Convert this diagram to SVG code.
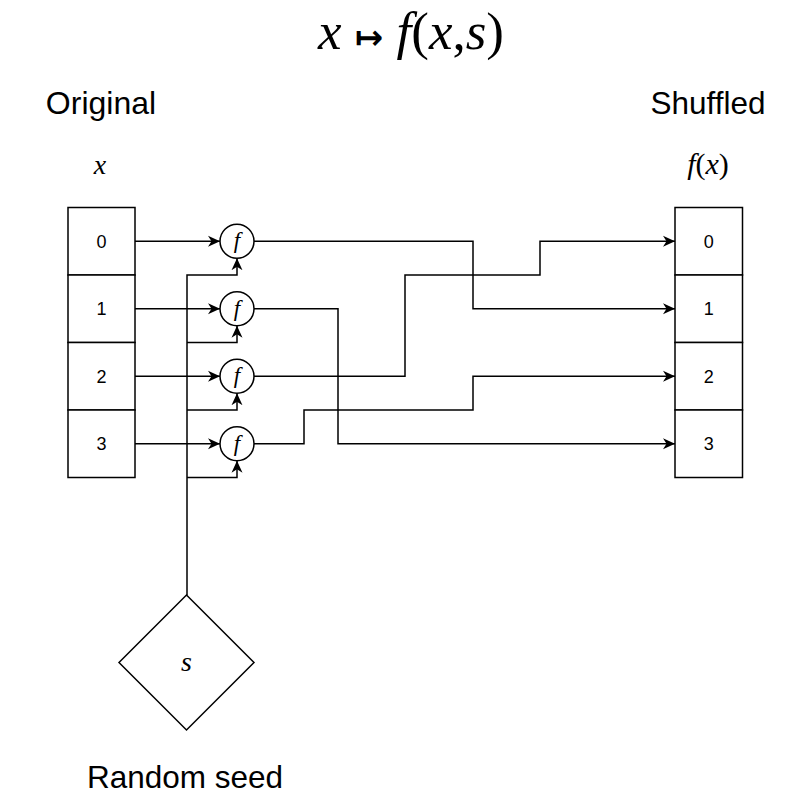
<svg xmlns="http://www.w3.org/2000/svg" width="811" height="807" viewBox="0 0 811 807">
<defs>
<style>
.box{fill:#fff;stroke:#000;stroke-width:1.5}
.ln{fill:none;stroke:#000;stroke-width:1.5}
.sans{font-family:"Liberation Sans",Arial,sans-serif;fill:#000}
.math{font-family:"Liberation Serif","Times New Roman",serif;font-style:italic;fill:#000}
.up{font-style:normal}
</style>
<marker id="arr" markerUnits="userSpaceOnUse" markerWidth="14" markerHeight="14" viewBox="0 0 14 14" refX="12" refY="7" orient="auto">
<path d="M0,1.5 L12,7 L0,12.5 L3.5,7 Z" fill="#000"/>
</marker>
</defs>
<rect width="811" height="807" fill="#fff"/>
<g id="title"><text class="math" x="411" y="49" font-size="53" text-anchor="middle">x <tspan class="up" font-family="DejaVu Sans, sans-serif" font-size="34" font-weight="bold">↦</tspan> f<tspan class="up">(</tspan>x<tspan class="up">,</tspan>s<tspan class="up">)</tspan></text></g>
<g id="label-original"><text class="sans" x="101" y="114" font-size="32" text-anchor="middle">Original</text></g>
<g id="label-shuffled"><text class="sans" x="708" y="114" font-size="31.5" text-anchor="middle">Shuffled</text></g>
<g id="label-x"><text class="math" x="100" y="174" font-size="28" text-anchor="middle">x</text></g>
<g id="label-fx"><text class="math" x="708" y="174" font-size="30" text-anchor="middle">f<tspan class="up">(</tspan>x<tspan class="up">)</tspan></text></g>
<g id="label-seed"><text class="sans" x="185" y="788" font-size="31.5" text-anchor="middle">Random seed</text></g>

<g id="connectors">
<path class="ln" d="M135,241.25 H220" marker-end="url(#arr)"/>
<path class="ln" d="M135,308.75 H220" marker-end="url(#arr)"/>
<path class="ln" d="M135,376.25 H220" marker-end="url(#arr)"/>
<path class="ln" d="M135,443.75 H220" marker-end="url(#arr)"/>
<path class="ln" d="M187,595 V275 H237 V258.25" marker-end="url(#arr)"/>
<path class="ln" d="M187,342.5 H237 V325.75" marker-end="url(#arr)"/>
<path class="ln" d="M187,410 H237 V393.25" marker-end="url(#arr)"/>
<path class="ln" d="M187,477.5 H237 V460.75" marker-end="url(#arr)"/>
<path class="ln" d="M254,241.25 H473 V308.75 H675" marker-end="url(#arr)"/>
<path class="ln" d="M254,308.75 H338 V443.75 H675" marker-end="url(#arr)"/>
<path class="ln" d="M254,376.25 H405 V275 H540 V241.25 H675" marker-end="url(#arr)"/>
<path class="ln" d="M254,443.75 H304 V410 H473 V376.25 H675" marker-end="url(#arr)"/>
</g>

<g id="orig-0"><rect class="box" x="68" y="207.5" width="67" height="67.5"/><text class="sans" font-size="18" text-anchor="middle" x="101.5" y="247.75">0</text></g>
<g id="orig-1"><rect class="box" x="68" y="275" width="67" height="67.5"/><text class="sans" font-size="18" text-anchor="middle" x="101.5" y="315.25">1</text></g>
<g id="orig-2"><rect class="box" x="68" y="342.5" width="67" height="67.5"/><text class="sans" font-size="18" text-anchor="middle" x="101.5" y="382.75">2</text></g>
<g id="orig-3"><rect class="box" x="68" y="410" width="67" height="67.5"/><text class="sans" font-size="18" text-anchor="middle" x="101.5" y="450.25">3</text></g>

<g id="shuf-0"><rect class="box" x="675" y="207.5" width="67.5" height="67.5"/><text class="sans" font-size="18" text-anchor="middle" x="708.75" y="247.75">0</text></g>
<g id="shuf-1"><rect class="box" x="675" y="275" width="67.5" height="67.5"/><text class="sans" font-size="18" text-anchor="middle" x="708.75" y="315.25">1</text></g>
<g id="shuf-2"><rect class="box" x="675" y="342.5" width="67.5" height="67.5"/><text class="sans" font-size="18" text-anchor="middle" x="708.75" y="382.75">2</text></g>
<g id="shuf-3"><rect class="box" x="675" y="410" width="67.5" height="67.5"/><text class="sans" font-size="18" text-anchor="middle" x="708.75" y="450.25">3</text></g>

<g id="f-0"><circle class="box" cx="237" cy="241.25" r="17"/><text class="math" x="237" y="248" font-size="23" text-anchor="middle">f</text></g>
<g id="f-1"><circle class="box" cx="237" cy="308.75" r="17"/><text class="math" x="237" y="315.5" font-size="23" text-anchor="middle">f</text></g>
<g id="f-2"><circle class="box" cx="237" cy="376.25" r="17"/><text class="math" x="237" y="383" font-size="23" text-anchor="middle">f</text></g>
<g id="f-3"><circle class="box" cx="237" cy="443.75" r="17"/><text class="math" x="237" y="450.5" font-size="23" text-anchor="middle">f</text></g>

<g id="seed"><path class="box" d="M186.5,595 L254,662.5 L186.5,730 L119,662.5 Z"/><text class="math" x="186.5" y="671" font-size="28" text-anchor="middle">s</text></g>
</svg>
